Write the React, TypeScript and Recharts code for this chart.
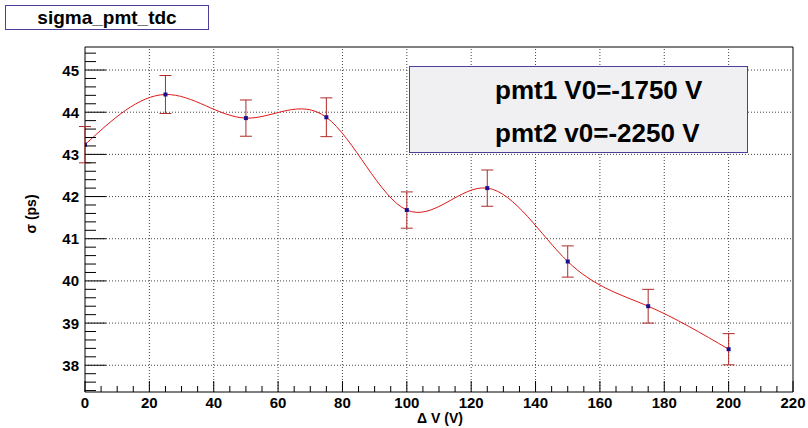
import React from 'react';
import {
  ComposedChart,
  Line,
  XAxis,
  YAxis,
  ErrorBar,
  ReferenceLine,
  ReferenceArea,
} from 'recharts';

// ---- data ----
const deltaV = [0, 25, 50, 75, 100, 125, 150, 175, 200];
const sigma = [43.23, 44.42, 43.86, 43.88, 41.68, 42.2, 40.46, 39.4, 38.38];
const sigmaErr = [0.43, 0.45, 0.43, 0.46, 0.43, 0.43, 0.37, 0.4, 0.37];

// ---- axes ----
const xMajorTicks = [0, 20, 40, 60, 80, 100, 120, 140, 160, 180, 200, 220];
const xAllTicks = [
  0, 5, 10, 15, 20, 25, 30, 35, 40, 45, 50, 55, 60, 65, 70, 75, 80, 85, 90, 95, 100,
  105, 110, 115, 120, 125, 130, 135, 140, 145, 150, 155, 160, 165, 170, 175, 180, 185,
  190, 195, 200, 205, 210, 215, 220,
];
const yMajorTicks = [38, 39, 40, 41, 42, 43, 44, 45];
const yAllTicks = [
  37.4, 37.6, 37.8, 38, 38.2, 38.4, 38.6, 38.8, 39, 39.2, 39.4, 39.6, 39.8, 40, 40.2,
  40.4, 40.6, 40.8, 41, 41.2, 41.4, 41.6, 41.8, 42, 42.2, 42.4, 42.6, 42.8, 43, 43.2,
  43.4, 43.6, 43.8, 44, 44.2, 44.4, 44.6, 44.8, 45, 45.2, 45.4,
];
const X_DOMAIN: [number, number] = [0, 220];
const Y_DOMAIN: [number, number] = [37.366, 45.546];

const titleText = 'sigma_pmt_tdc';
const legendLines = ['pmt1 V0=-1750 V', 'pmt2 v0=-2250 V'];
const xTitle = '\u0394 V (V)';
const yTitle = '\u03c3 (ps)';

const data = deltaV.map((x, i) => ({ x, y: sigma[i], err: sigmaErr[i] }));

const FONT = '"Liberation Sans", Arial, Helvetica, sans-serif';

const isMajor = (v: number, list: number[]) => list.some((m) => Math.abs(m - v) < 1e-6);

const YTick = (props: any) => {
  const { x, y, payload } = props;
  const v = payload.value as number;
  const major = isMajor(v, yMajorTicks);
  return (
    <g>
      <line x1={x} x2={x + (major ? 21 : 11)} y1={y} y2={y} stroke="#000" strokeWidth={1} />
      {major && (
        <text
          x={x - 6}
          y={y}
          textAnchor="end"
          dominantBaseline="central"
          fontSize={15}
          fontWeight="bold"
          fontFamily={FONT}
          fill="#000"
        >
          {Math.round(v)}
        </text>
      )}
    </g>
  );
};

const XTick = (props: any) => {
  const { x, y, payload } = props;
  const v = payload.value as number;
  const major = isMajor(v, xMajorTicks);
  return (
    <g>
      <line x1={x} x2={x} y1={y} y2={y - (major ? 11 : 6)} stroke="#000" strokeWidth={1} />
      {major && (
        <text
          x={x}
          y={y + 16}
          textAnchor="middle"
          fontSize={15}
          fontWeight="bold"
          fontFamily={FONT}
          fill="#000"
        >
          {v}
        </text>
      )}
    </g>
  );
};

const SquareDot = (props: any) => {
  const { cx, cy } = props;
  if (cx == null || cy == null) return null;
  return <rect x={cx - 2} y={cy - 2} width={4} height={4} fill="#1a0f8f" />;
};

export default function App() {
  return (
    <div
      style={{
        position: 'absolute',
        left: 0,
        top: 0,
        width: 808,
        height: 428,
        background: '#fff',
        fontFamily: FONT,
      }}
    >
      <ComposedChart
        width={808}
        height={428}
        data={data}
        margin={{ top: 47, right: 15, bottom: 6, left: 25 }}
      >
        <XAxis
          dataKey="x"
          type="number"
          domain={X_DOMAIN}
          ticks={xAllTicks}
          interval={0}
          allowDataOverflow
          tickSize={0}
          tickMargin={0}
          tickLine={false}
          axisLine={false}
          height={30}
          tick={<XTick />}
        />
        <YAxis
          type="number"
          domain={Y_DOMAIN}
          ticks={yAllTicks}
          interval={0}
          allowDataOverflow
          tickSize={0}
          tickMargin={0}
          tickLine={false}
          axisLine={false}
          width={60}
          tick={<YTick />}
        />
        {xMajorTicks
          .filter((v) => v > 0 && v < 220)
          .map((v) => (
            <ReferenceLine
              key={'gx' + v}
              x={v}
              stroke="#444"
              strokeDasharray="1 2"
              strokeWidth={1}
            />
          ))}
        {yMajorTicks.map((v) => (
          <ReferenceLine
            key={'gy' + v}
            y={v}
            stroke="#444"
            strokeDasharray="1 2"
            strokeWidth={1}
          />
        ))}
        <ReferenceArea
          x1={X_DOMAIN[0]}
          x2={X_DOMAIN[1]}
          y1={Y_DOMAIN[0]}
          y2={Y_DOMAIN[1]}
          fill="none"
          fillOpacity={0}
          stroke="#000"
          strokeWidth={1}
        />
        <Line
          dataKey="y"
          type="natural"
          stroke="#e01818"
          strokeWidth={1}
          dot={<SquareDot />}
          activeDot={false}
          isAnimationActive={false}
        >
          <ErrorBar dataKey="err" direction="y" width={6} stroke="#b02a2a" strokeWidth={1} />
        </Line>
      </ComposedChart>

      {/* title box */}
      <div
        style={{
          position: 'absolute',
          left: 5,
          top: 5,
          width: 202,
          height: 23,
          border: '1px solid #4b3f9a',
          background: '#fff',
          display: 'flex',
          alignItems: 'center',
          justifyContent: 'center',
          fontWeight: 'bold',
          fontSize: 19,
          color: '#000',
          lineHeight: 1,
        }}
      >
        {titleText}
      </div>

      {/* legend / pave text */}
      <div
        style={{
          position: 'absolute',
          left: 409,
          top: 66,
          width: 337,
          height: 85,
          border: '1px solid #4b3f9a',
          background: '#f0f0f2',
        }}
      >
        {legendLines.map((t, i) => (
          <div
            key={t}
            style={{
              position: 'absolute',
              left: 85,
              top: 8 + i * 43,
              fontWeight: 'bold',
              fontSize: 26,
              lineHeight: '30px',
              color: '#000',
              whiteSpace: 'nowrap',
            }}
          >
            {t}
          </div>
        ))}
      </div>

      {/* axis titles */}
      <div
        style={{
          position: 'absolute',
          left: 413,
          top: 410,
          width: 54,
          textAlign: 'center',
          fontWeight: 'bold',
          fontSize: 14,
          lineHeight: '16px',
          color: '#000',
          whiteSpace: 'nowrap',
        }}
      >
        {xTitle}
      </div>
      <div
        style={{
          position: 'absolute',
          left: 31,
          top: 214,
          transform: 'translate(-50%, -50%) rotate(-90deg)',
          fontWeight: 'bold',
          fontSize: 14,
          lineHeight: '16px',
          color: '#000',
          whiteSpace: 'nowrap',
        }}
      >
        {yTitle}
      </div>
    </div>
  );
}
